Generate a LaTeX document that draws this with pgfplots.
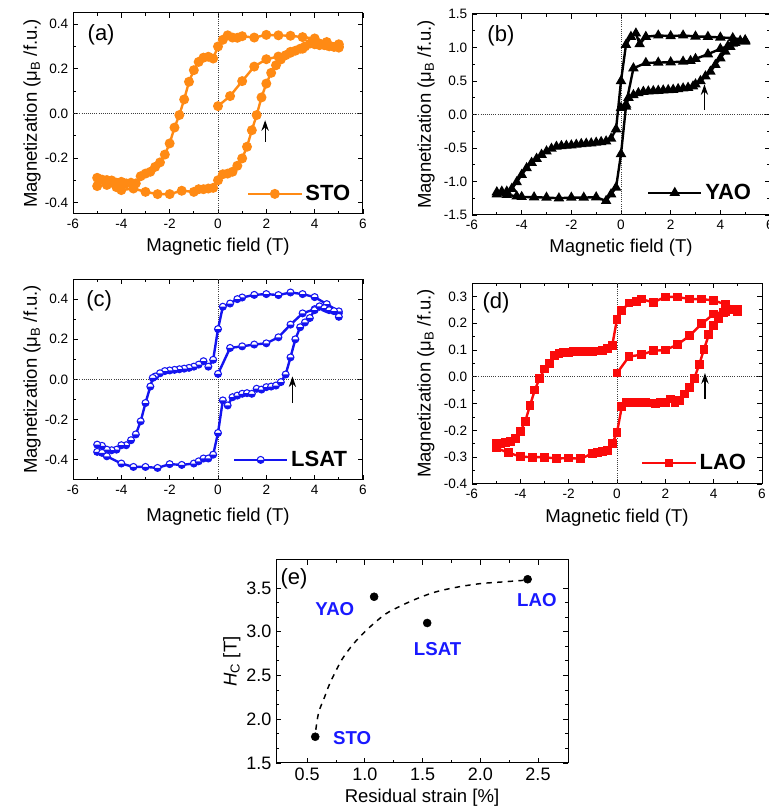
\documentclass[border=0pt]{standalone}
\usepackage{fontspec}
\setmainfont{Liberation Sans}
\usepackage{pgfplots}
\pgfplotsset{compat=1.18}
\usetikzlibrary{arrows.meta}
\definecolor{stoorange}{RGB}{255,138,20}
\definecolor{lsatblue}{RGB}{20,20,240}
\definecolor{laored}{RGB}{250,10,10}
\definecolor{lblue}{RGB}{25,25,255}

\pgfdeclareplotmark{halfcirc}{%
  \pgfpathcircle{\pgfpointorigin}{\pgfplotmarksize}%
  \pgfsetfillcolor{white}%
  \pgfusepathqfillstroke
  \pgfpathmoveto{\pgfpoint{-\pgfplotmarksize}{0pt}}%
  \pgfpatharc{180}{360}{\pgfplotmarksize}%
  \pgfpathclose
  \pgfsetfillcolor{lsatblue}%
  \pgfusepathqfill
}

\tikzset{
  zeroline/.style={densely dotted, line width=0.6pt, black!75},
  arr/.style={-{Stealth[length=8pt,width=5.5pt]}, line width=0.9pt, black},
  plabel/.style={font=\fontsize{16.5}{18}\selectfont},
}

\pgfplotsset{
  common/.style={
    scale only axis,
    anchor=south west,
    tick align=inside,
    major tick length=3.5pt, minor tick length=2pt,
    axis line style={line width=0.75pt},
    every tick/.style={black, line width=0.7pt},
    /pgf/number format/assume math mode=true,
    yticklabel style={/pgf/number format/.cd, fixed, fixed zerofill, precision=1},
  },
  mag/.style={
    common,
    width=217.5pt, height=150.75pt,
    xmin=-6, xmax=6,
    xtick={-6,-4,-2,0,2,4,6},
    minor x tick num=1,
    minor y tick num=1,
    tick label style={font=\fontsize{10.2}{12}\selectfont},
    label style={font=\fontsize{13.9}{16}\selectfont},
    xlabel={Magnetic field (T)},
    ylabel={Magnetization (μ\textsubscript{B} /f.u.)},
    xlabel style={at={(axis description cs:0.5,-0.165)}, anchor=center},
    ylabel style={at={(axis description cs:-0.141,0.5)}, anchor=center},
    legend style={draw=none, fill=none, anchor=east, inner sep=0pt,
      font=\fontsize{16.5}{18}\selectfont\bfseries},
    legend image code/.code={\draw[mark repeat=2,mark phase=2,##1] plot coordinates {(0pt,0pt) (20pt,0pt) (40pt,0pt)};},
  },
}

\begin{document}
\begin{tikzpicture}
\useasboundingbox (0,0) rectangle (576pt,609pt);

%% (a) STO
\begin{axis}[mag, at={(54.75pt,448.5pt)},
  ymin=-0.45, ymax=0.45, ytick={-0.4,-0.2,0,0.2,0.4},
  legend style={at={(0.966,0.10)}}]
\draw[zeroline] (axis cs:-6,0) -- (axis cs:6,0);
\draw[zeroline] (axis cs:0,-0.45) -- (axis cs:0,0.45);
\addplot[stoorange, line width=1.8pt, mark=*, mark size=2.8pt, mark options={solid, fill=stoorange}] coordinates {
(0,0.033) (0.5,0.078) (1.0,0.145) (1.5,0.21) (2.0,0.243) (2.5,0.255) (3.0,0.272) (3.5,0.29) (4.0,0.31) (4.5,0.305) (5.0,0.30)
(5.0,0.31) (4.5,0.32) (4.0,0.336) (3.5,0.342) (3.0,0.348) (2.5,0.35) (2.0,0.352) (1.5,0.34) (1.0,0.346) (0.8,0.339) (0.6,0.34) (0.4,0.35) (0.2,0.33) (0,0.3)
(-0.2,0.246) (-0.4,0.254) (-0.6,0.25) (-0.8,0.231) (-1.0,0.194) (-1.2,0.142) (-1.4,0.063) (-1.6,-0.007) (-1.8,-0.063) (-2.0,-0.134) (-2.2,-0.184) (-2.4,-0.219) (-2.6,-0.239) (-2.8,-0.261) (-3.0,-0.269) (-3.2,-0.281) (-3.4,-0.313) (-3.6,-0.31) (-3.8,-0.313) (-4.0,-0.306) (-4.2,-0.31) (-4.4,-0.30) (-4.6,-0.298) (-4.8,-0.296) (-5.0,-0.288)
(-5.0,-0.325) (-4.6,-0.32) (-4.2,-0.33) (-4.0,-0.343) (-3.5,-0.336) (-3.0,-0.351) (-2.5,-0.361) (-2.0,-0.361) (-1.5,-0.346) (-1.0,-0.351) (-0.8,-0.339) (-0.6,-0.339) (-0.4,-0.336) (-0.2,-0.333) (0,-0.299)
(0.2,-0.272) (0.4,-0.269) (0.6,-0.261) (0.8,-0.234) (1.0,-0.201) (1.2,-0.149) (1.4,-0.075) (1.6,-0.007) (1.8,0.072) (2.0,0.134) (2.2,0.182) (2.4,0.216) (2.6,0.242) (2.8,0.261) (3.0,0.276) (3.2,0.281) (3.4,0.29) (3.6,0.30) (3.8,0.313) (4.0,0.316) (4.2,0.306) (4.4,0.306) (4.6,0.301) (4.8,0.298) (5.0,0.295)
};
\addlegendentry{STO}
\draw[arr] (axis cs:1.95,-0.127) -- (axis cs:1.95,-0.03);
\node[plabel] at (rel axis cs:0.097,0.89) {(a)};
\end{axis}

%% (b) YAO
\begin{axis}[mag, at={(354pt,447.75pt)}, width=223.5pt,
  ymin=-1.5, ymax=1.5, ytick={-1.5,-1,-0.5,0,0.5,1,1.5},
  ylabel style={at={(axis description cs:-0.154,0.5)}},
  legend style={at={(0.946,0.11)}}]
\draw[zeroline] (axis cs:-6,0) -- (axis cs:6,0);
\draw[zeroline] (axis cs:0,-1.5) -- (axis cs:0,1.5);
\addplot[black, line width=1.8pt, mark=triangle*, mark size=2.8pt, mark options={solid}] coordinates {
(0,0.10) (0.2,0.15) (0.5,0.69) (1.0,0.77) (1.5,0.775) (2.0,0.78) (2.5,0.79) (2.8,0.80) (3.0,0.83) (3.5,0.90) (4.0,0.98) (4.3,1.02) (4.5,1.06) (5.0,1.09)
(5.0,1.11) (4.5,1.14) (4.0,1.15) (3.5,1.16) (3.0,1.165) (2.5,1.18) (2.0,1.17) (1.5,1.18) (1.0,1.16) (0.75,1.05) (0.6,1.21) (0.4,1.16) (0.2,1.04) (0.0,0.50)
(-0.2,-0.22) (-0.4,-0.36) (-0.6,-0.40) (-0.8,-0.41) (-1.0,-0.42) (-1.2,-0.43) (-1.4,-0.435) (-1.6,-0.44) (-1.8,-0.45) (-2.0,-0.46) (-2.2,-0.465) (-2.4,-0.47) (-2.6,-0.48) (-2.8,-0.51) (-3.0,-0.55) (-3.2,-0.60) (-3.4,-0.66) (-3.6,-0.72) (-3.8,-0.80) (-4.0,-0.90) (-4.2,-1.01) (-4.4,-1.11) (-4.6,-1.15) (-4.8,-1.15) (-5.0,-1.16)
(-5.0,-1.19) (-4.6,-1.20) (-4.2,-1.22) (-4.0,-1.23) (-3.5,-1.235) (-3.0,-1.24) (-2.5,-1.25) (-2.0,-1.24) (-1.5,-1.24) (-1.0,-1.235) (-0.6,-1.29) (-0.4,-1.19) (-0.2,-1.09) (0,-0.59)
(0.2,0.12) (0.3,0.25) (0.5,0.29) (0.7,0.32) (0.9,0.34) (1.1,0.345) (1.3,0.35) (1.5,0.355) (1.7,0.36) (1.9,0.365) (2.1,0.37) (2.3,0.38) (2.5,0.39) (2.7,0.40) (2.9,0.42) (3.0,0.45) (3.2,0.50) (3.4,0.57) (3.6,0.64) (3.8,0.74) (4.0,0.84) (4.2,0.94) (4.4,1.01) (4.6,1.07) (4.8,1.10) (5.0,1.10)
};
\addlegendentry{YAO}
\draw[arr] (axis cs:3.36,0.07) -- (axis cs:3.36,0.45);
\node[plabel] at (rel axis cs:0.097,0.89) {(b)};
\end{axis}

%% (c) LSAT
\begin{axis}[mag, at={(54.75pt,249pt)},
  ymin=-0.5, ymax=0.5, ytick={-0.4,-0.2,0,0.2,0.4},
  xlabel style={at={(axis description cs:0.5,-0.184)}},
  legend style={at={(0.955,0.10)}}]
\draw[zeroline] (axis cs:-6,0) -- (axis cs:6,0);
\draw[zeroline] (axis cs:0,-0.5) -- (axis cs:0,0.5);
\addplot[lsatblue, line width=1.8pt, mark=halfcirc, mark size=2.6pt, mark options={solid, line width=0.8pt}] coordinates {
(0,0.028) (0.5,0.157) (1.0,0.165) (1.5,0.174) (2.0,0.18) (2.5,0.21) (3.0,0.273) (3.5,0.329) (4.0,0.35) (4.2,0.362) (4.5,0.35) (5.0,0.33)
(5.0,0.339) (4.5,0.375) (4.0,0.41) (3.5,0.425) (3.0,0.433) (2.5,0.42) (2.0,0.425) (1.5,0.421) (1.0,0.408) (0.8,0.40) (0.5,0.378) (0.2,0.362) (0.0,0.251)
(-0.2,0.098) (-0.4,0.064) (-0.6,0.091) (-0.8,0.074) (-1.0,0.064) (-1.2,0.058) (-1.4,0.054) (-1.6,0.051) (-1.8,0.048) (-2.0,0.045) (-2.2,0.042) (-2.4,0.031) (-2.6,0.015) (-2.7,0.008) (-2.8,-0.035) (-3.0,-0.117) (-3.2,-0.208) (-3.4,-0.273) (-3.6,-0.302) (-3.8,-0.327) (-4.0,-0.327) (-4.2,-0.349) (-4.4,-0.352) (-4.6,-0.349) (-4.8,-0.33) (-5.0,-0.324)
(-5.0,-0.36) (-4.8,-0.365) (-4.6,-0.382) (-4.0,-0.418) (-3.5,-0.435) (-3.0,-0.435) (-2.5,-0.44) (-2.0,-0.421) (-1.5,-0.425) (-1.0,-0.418) (-0.8,-0.407) (-0.6,-0.393) (-0.4,-0.393) (-0.2,-0.374) (0.0,-0.266)
(0.2,-0.104) (0.4,-0.129) (0.6,-0.088) (0.8,-0.08) (1.0,-0.071) (1.2,-0.068) (1.4,-0.071) (1.6,-0.046) (1.8,-0.05) (2.0,-0.038) (2.2,-0.035) (2.4,-0.03) (2.6,-0.013) (2.8,0.025) (3.0,0.11) (3.2,0.20) (3.4,0.26) (3.6,0.284) (3.8,0.306) (4.0,0.345) (4.2,0.364) (4.4,0.355) (4.6,0.345) (4.8,0.34) (5.0,0.312)
};
\addlegendentry{LSAT}
\draw[arr] (axis cs:3.08,-0.117) -- (axis cs:3.08,0.015);
\node[plabel] at (rel axis cs:0.09,0.89) {(c)};
\end{axis}

%% (d) LAO
\begin{axis}[mag, at={(354pt,246pt)},
  ymin=-0.4, ymax=0.35, ytick={-0.4,-0.3,-0.2,-0.1,0,0.1,0.2,0.3},
  ylabel style={at={(axis description cs:-0.159,0.5)}},
  xlabel style={at={(axis description cs:0.5,-0.17)}},
  legend style={at={(0.955,0.104)}}]
\draw[zeroline] (axis cs:-6,0) -- (axis cs:6,0);
\draw[zeroline] (axis cs:0,-0.4) -- (axis cs:0,0.35);
\addplot[laored, line width=1.8pt, mark=square*, mark size=2.4pt, mark options={solid}] coordinates {
(0,0.014) (0.5,0.076) (1.0,0.082) (1.5,0.097) (2.0,0.10) (2.5,0.12) (3.0,0.153) (3.5,0.198) (4.0,0.234) (4.5,0.245) (5.0,0.25)
(5.0,0.253) (4.5,0.27) (4.0,0.285) (3.5,0.29) (3.0,0.29) (2.5,0.298) (2.0,0.298) (1.5,0.278) (1.0,0.29) (0.8,0.281) (0.5,0.275) (0.2,0.248) (0.0,0.215)
(-0.2,0.116) (-0.4,0.107) (-0.6,0.098) (-0.8,0.096) (-1.0,0.095) (-1.2,0.095) (-1.4,0.094) (-1.6,0.094) (-1.8,0.093) (-2.0,0.092) (-2.2,0.090) (-2.4,0.088) (-2.6,0.078) (-2.8,0.049) (-3.0,0.029) (-3.2,-0.005) (-3.4,-0.049) (-3.6,-0.107) (-3.8,-0.167) (-4.0,-0.204) (-4.2,-0.229) (-4.4,-0.242) (-4.6,-0.245) (-4.8,-0.248) (-5.0,-0.248)
(-5.0,-0.266) (-4.5,-0.283) (-4.0,-0.298) (-3.5,-0.30) (-3.0,-0.30) (-2.5,-0.305) (-2.0,-0.303) (-1.5,-0.306) (-1.0,-0.285) (-0.8,-0.283) (-0.6,-0.279) (-0.4,-0.275) (-0.2,-0.25) (0.0,-0.208)
(0.2,-0.111) (0.4,-0.096) (0.6,-0.097) (0.8,-0.096) (1.0,-0.096) (1.2,-0.097) (1.4,-0.098) (1.6,-0.10) (1.8,-0.097) (2.0,-0.095) (2.2,-0.083) (2.4,-0.096) (2.6,-0.087) (2.8,-0.064) (3.0,-0.039) (3.2,-0.005) (3.4,0.045) (3.6,0.103) (3.8,0.157) (4.0,0.19) (4.2,0.219) (4.4,0.24) (4.6,0.25) (4.8,0.252) (5.0,0.244)
};
\addlegendentry{LAO}
\draw[arr] (axis cs:3.64,-0.083) -- (axis cs:3.64,0.014);
\node[plabel] at (rel axis cs:0.083,0.90) {(d)};
\end{axis}

%% (e)
\begin{axis}[common, at={(207pt,36.75pt)},
  width=219pt, height=152.25pt,
  xmin=0.23, xmax=2.76, ymin=1.5, ymax=3.82,
  xtick={0.5,1.0,1.5,2.0,2.5}, ytick={1.5,2.0,2.5,3.0,3.5},
  xticklabel style={/pgf/number format/.cd, fixed, fixed zerofill, precision=1},
  minor x tick num=1, minor y tick num=2,
  tick label style={font=\fontsize{13.5}{15}\selectfont},
  label style={font=\fontsize{13.9}{16}\selectfont},
  xlabel={Residual strain [\%]},
  ylabel={\textit{H}\textsubscript{C} [T]},
  xlabel style={at={(axis description cs:0.5,-0.172)}, anchor=center},
  ylabel style={at={(axis description cs:-0.151,0.5)}, anchor=center}]
\addplot[black, dashed, smooth, line width=1.1pt, dash pattern=on 4pt off 4pt] coordinates {
(0.575,1.88) (0.6,2.08) (0.65,2.25) (0.7,2.42) (0.8,2.68) (0.9,2.86) (1.0,3.0) (1.1,3.12) (1.2,3.22) (1.4,3.35) (1.6,3.45) (1.8,3.51) (2.0,3.55) (2.2,3.57) (2.4,3.59)
};
\addplot[only marks, black, mark=*, mark size=3pt] coordinates {
(0.57,1.8) (1.08,3.4) (1.54,3.1) (2.41,3.6)
};
\node[font=\fontsize{14}{16}\selectfont\bfseries, text=lblue] at (axis cs:0.74,3.26) {YAO};
\node[font=\fontsize{14}{16}\selectfont\bfseries, text=lblue] at (axis cs:1.63,2.80) {LSAT};
\node[font=\fontsize{14}{16}\selectfont\bfseries, text=lblue] at (axis cs:2.49,3.36) {LAO};
\node[font=\fontsize{14}{16}\selectfont\bfseries, text=lblue] at (axis cs:0.89,1.79) {STO};
\node[plabel] at (rel axis cs:0.062,0.906) {(e)};
\end{axis}
\end{tikzpicture}
\end{document}
